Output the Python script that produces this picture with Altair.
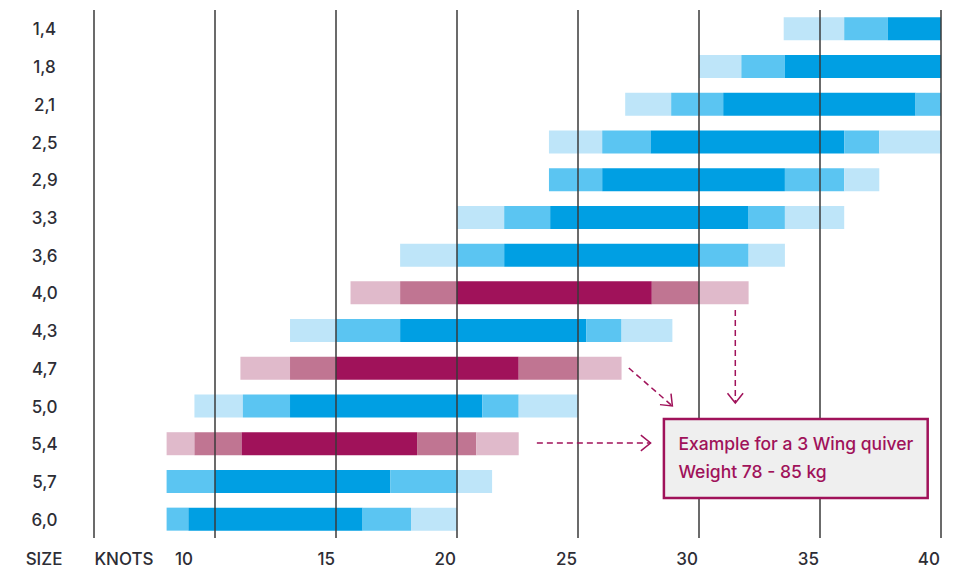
import altair as alt
import pandas as pd

# ---- data (knots) ----
sizes = ["1,4", "1,8", "2,1", "2,5", "2,9", "3,3", "3,6",
         "4,0", "4,3", "4,7", "5,0", "5,4", "5,7", "6,0"]

# segment boundaries per size (knots)
bounds = [
    [33.5, 36.0, 37.8, 40.0],
    [30.0, 31.75, 33.55, 40.0],
    [26.95, 28.85, 31.0, 38.95, 40.0],
    [23.8, 26.0, 28.0, 36.0, 37.45, 40.0],
    [23.8, 26.0, 33.55, 36.0, 37.45],
    [20.0, 21.95, 23.85, 32.05, 33.55, 36.0],
    [17.65, 20.0, 21.95, 30.0, 32.05, 33.55],
    [15.6, 17.65, 20.0, 28.05, 30.0, 32.05],
    [13.1, 15.0, 17.65, 25.35, 26.8, 28.9],
    [11.05, 13.1, 15.0, 22.55, 25.0, 26.8],
    [9.15, 11.15, 13.1, 21.05, 22.55, 25.0],
    [8.0, 9.15, 11.1, 18.35, 20.8, 22.55],
    [8.0, 10.0, 17.25, 20.05, 21.45],
    [8.0, 8.9, 16.1, 18.1, 20.0],
]
# wind level of each segment: 1 = light, 2 = medium, 3 = strong
levels = [
    [1, 2, 3],
    [1, 2, 3],
    [1, 2, 3, 2],
    [1, 2, 3, 2, 1],
    [2, 3, 2, 1],
    [1, 2, 3, 2, 1],
    [1, 2, 3, 2, 1],
    [1, 2, 3, 2, 1],
    [1, 2, 3, 2, 1],
    [1, 2, 3, 2, 1],
    [1, 2, 3, 2, 1],
    [1, 2, 3, 2, 1],
    [2, 3, 2, 1],
    [2, 3, 2, 1],
]
quiver_sizes = ["4,0", "4,7", "5,4"]

grid_values = [5, 10, 15, 20, 25, 30, 35, 40]
tick_values = [15, 20, 25, 30, 35, 40]

tone_domain = ["blue1", "blue2", "blue3", "pink1", "pink2", "pink3"]
tone_range = ["#BEE5F9", "#5BC5F2", "#009FE3", "#E0BACB", "#C07592", "#A0125A"]

rows = []
for s, b, lv in zip(sizes, bounds, levels):
    fam = "pink" if s in quiver_sizes else "blue"
    for i, l in enumerate(lv):
        rows.append({"size": s, "x0": b[i], "x1": b[i + 1], "tone": f"{fam}{l}"})
df = pd.DataFrame(rows)

FONT = "Inter"
TXT = "#2d2d35"
PINK = "#A0125A"
FS = 17
LBL_Y = 550

xscale = alt.Scale(domain=[5, 40], nice=False, zero=False)

bars = alt.Chart(df).mark_bar().encode(
    x=alt.X("x0:Q", scale=xscale, axis=None),
    x2="x1:Q",
    y=alt.Y("size:N", sort=sizes,
            scale=alt.Scale(paddingInner=0.39, paddingOuter=0.195),
            axis=alt.Axis(title=None, domain=False, ticks=False, labelPadding=50,
                          labelAlign="center", labelOffset=1.5, labelFont=FONT,
                          labelFontSize=FS, labelFontWeight=500, labelColor=TXT)),
    color=alt.Color("tone:N", scale=alt.Scale(domain=tone_domain, range=tone_range), legend=None),
)

grid = alt.Chart(pd.DataFrame({"v": grid_values})).mark_rule(
    color="#3a3a3a", strokeWidth=1.5).encode(x=alt.X("v:Q", scale=xscale))

ticks = alt.Chart(pd.DataFrame({"v": tick_values})).mark_text(
    align="right", baseline="middle", dx=-1, font=FONT, fontSize=FS, fontWeight=500, color=TXT
).encode(x=alt.X("v:Q", scale=xscale), y=alt.value(LBL_Y), text=alt.Text("v:Q"))

tick10 = alt.Chart(pd.DataFrame({"v": [10]})).mark_text(
    align="right", baseline="middle", dx=-22, font=FONT, fontSize=FS, fontWeight=500, color=TXT
).encode(x=alt.X("v:Q", scale=xscale), y=alt.value(LBL_Y), text=alt.Text("v:Q"))

one = pd.DataFrame({"a": [0]})
size_lbl = alt.Chart(one).mark_text(
    align="center", baseline="middle", font=FONT, fontSize=FS, fontWeight=500, color=TXT
).encode(x=alt.value(-50), y=alt.value(LBL_Y), text=alt.value("SIZE"))
knots_lbl = alt.Chart(one).mark_text(
    align="center", baseline="middle", font=FONT, fontSize=FS, fontWeight=500, color=TXT
).encode(x=alt.value(30), y=alt.value(LBL_Y), text=alt.value("KNOTS"))

# annotation arrows: x in knots, y in pixels
arrow_x0 = [23.3, 31.5, 27.1]
arrow_x1 = [28.0, 31.5, 28.9]
arrow_y0 = [433, 300, 358]
arrow_y1 = [433, 393, 396]
arrow_angle = [0, 90, 45]
chevron = "M -1 -0.8 L 0 0 L -1 0.8"

arrows = []
for x0, x1, y0, y1, ang in zip(arrow_x0, arrow_x1, arrow_y0, arrow_y1, arrow_angle):
    d = pd.DataFrame({"x0": [x0], "x1": [x1]})
    arrows.append(alt.Chart(d).mark_rule(color=PINK, strokeWidth=1.5, strokeDash=[6, 4]).encode(
        x=alt.X("x0:Q", scale=xscale), x2="x1:Q", y=alt.value(y0), y2=alt.value(y1)))
    arrows.append(alt.Chart(d).mark_point(shape=chevron, size=380, angle=ang, filled=False,
                                          color=PINK, strokeWidth=1.5, opacity=1).encode(
        x=alt.X("x1:Q", scale=xscale), y=alt.value(y1)))

box = alt.Chart(pd.DataFrame({"x0": [28.55], "x1": [39.45]})).mark_rect(
    fill="#EFEFEF", stroke=PINK, strokeWidth=2.5).encode(
    x=alt.X("x0:Q", scale=xscale), x2="x1:Q", y=alt.value(409), y2=alt.value(488))

note_lines = ["Example for a 3 Wing quiver", "Weight 78 - 85 kg"]
note_y = [435, 463]
notes = [alt.Chart(pd.DataFrame({"x": [29.15]})).mark_text(
    align="left", baseline="middle", font="Inter", fontSize=17.5, fontWeight=500, color=PINK).encode(
    x=alt.X("x:Q", scale=xscale), y=alt.value(yy), text=alt.value(t))
    for t, yy in zip(note_lines, note_y)]

chart = alt.layer(bars, grid, ticks, tick10, size_lbl, knots_lbl, *arrows, box, *notes).properties(
    width=847, height=528,
    autosize=alt.AutoSizeParams(type="none"),
    padding={"left": 86, "top": 2, "right": 20, "bottom": 33},
).configure_view(stroke=None)

chart.save("out.html", embed_options={"renderer": "svg", "actions": False})
